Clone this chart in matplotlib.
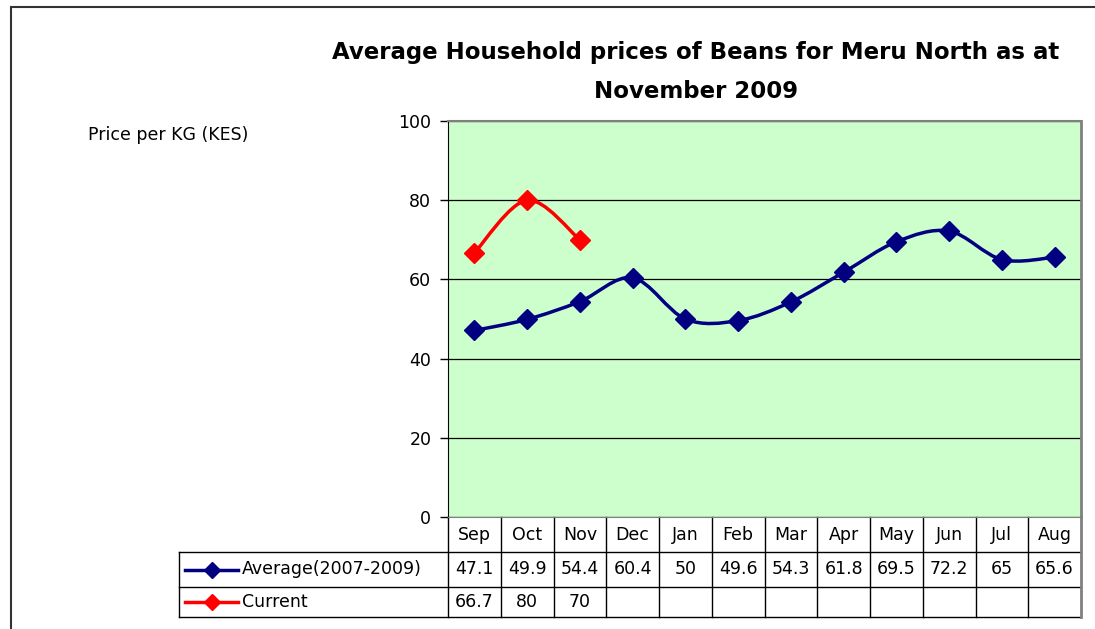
import matplotlib
matplotlib.use('Agg')
import matplotlib.pyplot as plt
from matplotlib.path import Path
from matplotlib.patches import PathPatch, Rectangle
from matplotlib.lines import Line2D
import matplotlib.transforms as mtransforms

months = ['Sep', 'Oct', 'Nov', 'Dec', 'Jan', 'Feb', 'Mar', 'Apr', 'May', 'Jun', 'Jul', 'Aug']
average = [47.1, 49.9, 54.4, 60.4, 50, 49.6, 54.3, 61.8, 69.5, 72.2, 65, 65.6]
current = [66.7, 80, 70]
series_names = ['Average(2007-2009)', 'Current']
colors = ['#000080', '#FF0000']

plt.rcParams['font.family'] = ['DejaVu Sans']


def smooth_path(xs, ys):
    # excel-like smoothed line: catmull-rom converted to cubic bezier
    pts = list(zip(xs, ys))
    verts = [pts[0]]
    codes = [Path.MOVETO]
    n = len(pts)
    for i in range(n - 1):
        p0 = pts[i - 1] if i > 0 else pts[i]
        p1 = pts[i]
        p2 = pts[i + 1]
        p3 = pts[i + 2] if i + 2 < n else pts[i + 1]
        c1 = (p1[0] + (p2[0] - p0[0]) / 6, p1[1] + (p2[1] - p0[1]) / 6)
        c2 = (p2[0] - (p3[0] - p1[0]) / 6, p2[1] - (p3[1] - p1[1]) / 6)
        verts += [c1, c2, p2]
        codes += [Path.CURVE4] * 3
    return Path(verts, codes)


fig = plt.figure(figsize=(10.95, 6.29), dpi=100)
W, H = 1095, 629
ax = fig.add_axes([448 / W, 1 - 517 / H, (1081 - 448) / W, (517 - 121) / H])
ax.set_facecolor('#CCFFCC')

# outer chart border
fig.patches.append(Rectangle((11 / W, -0.1), 1.2, 1 - 7 / H + 0.1, transform=fig.transFigure,
                             fill=False, edgecolor='#333333', linewidth=1.5))

x = list(range(len(months)))
for vals, c in zip([average, current], colors):
    xs = x[:len(vals)]
    ax.add_patch(PathPatch(smooth_path(xs, vals), fill=False, edgecolor=c, linewidth=2.5, zorder=3))
    ax.plot(xs, vals, linestyle='none', marker='D', markersize=10, color=c, zorder=4)

ax.set_xlim(-0.5, len(months) - 0.5)
ax.set_ylim(0, 100)
ax.set_yticks([0, 20, 40, 60, 80, 100])
ax.yaxis.grid(True, color='black', linewidth=0.9)
ax.set_axisbelow(True)
ax.set_xticks([])
ax.tick_params(axis='y', length=6, width=1, labelsize=12.5, pad=6)
ax.spines['left'].set_color('black')
for s in ['top', 'right', 'bottom']:
    ax.spines[s].set_color('#808080')
ax.spines['right'].set_linewidth(2)
ax.spines['top'].set_linewidth(1.5)

fig.text(696 / W, 1 - 53 / H, 'Average Household prices of Beans for Meru North as at',
         ha='center', va='center', fontsize=16.5, fontweight='bold')
fig.text(696 / W, 1 - 91 / H, 'November 2009', ha='center', va='center', fontsize=16.5, fontweight='bold')
fig.text(88 / W, 1 - 135 / H, 'Price per KG (KES)', ha='left', va='center', fontsize=12.5)

# data table under the plot
tr = mtransforms.blended_transform_factory(ax.transData, ax.transAxes)
ah = 517 - 121
y_rows = [0, -35 / ah, -70 / ah, -100 / ah]
lab_left = (179 - 448) / (1081 - 448)
lk = dict(transform=ax.transAxes, clip_on=False, color='black', linewidth=1)
for yy in y_rows[1:]:
    ax.add_line(Line2D([lab_left, 1], [yy, yy], **lk))
ax.add_line(Line2D([lab_left, lab_left], [y_rows[1], y_rows[3]], **lk))
for k in range(len(months) + 1):
    xb = k - 0.5
    c = '#808080' if k == len(months) else 'black'
    lw = 2 if k == len(months) else 1
    ax.add_line(Line2D([xb, xb], [0, y_rows[3]], transform=tr, clip_on=False, color=c, linewidth=lw))

tk = dict(transform=tr, clip_on=False, ha='center', va='center', fontsize=12.5)
for i, m in enumerate(months):
    ax.text(i, (y_rows[0] + y_rows[1]) / 2, m, **tk)
for r, vals in enumerate([average, current]):
    yc = (y_rows[r + 1] + y_rows[r + 2]) / 2
    for i, v in enumerate(vals):
        ax.text(i, yc, f'{v:g}', **tk)
    x0 = (185 - 448) / 633
    x1 = (238 - 448) / 633
    ax.add_line(Line2D([x0, x1], [yc, yc], transform=ax.transAxes, clip_on=False,
                       color=colors[r], linewidth=2.5))
    ax.add_line(Line2D([(x0 + x1) / 2], [yc], transform=ax.transAxes, clip_on=False,
                       color=colors[r], marker='D', markersize=8, linestyle='none'))
    ax.text((242 - 448) / 633, yc, series_names[r], transform=ax.transAxes, clip_on=False,
            ha='left', va='center', fontsize=12.5)

fig.savefig('out.png', dpi=100)
